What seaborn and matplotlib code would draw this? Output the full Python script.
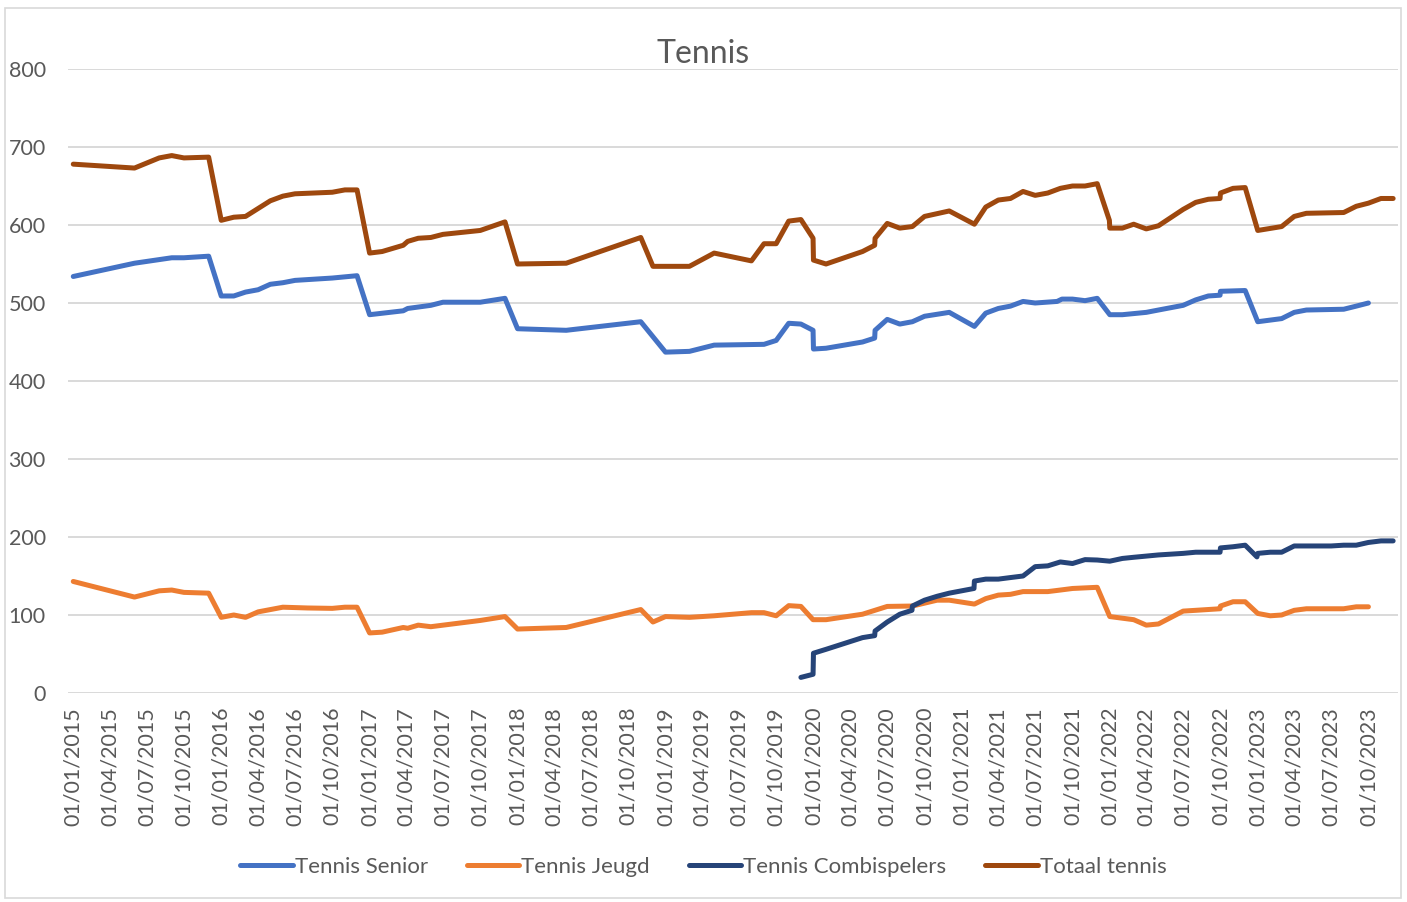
import pandas as pd
import numpy as np
import seaborn as sns
import matplotlib.pyplot as plt
import matplotlib.dates as mdates
from matplotlib.patches import Rectangle

# -----------------------------
# data
# -----------------------------
totaal_dates = [
    "2015-01-01", "2015-06-01", "2015-08-01", "2015-09-01", "2015-10-01", "2015-12-01",
    "2016-01-01", "2016-02-01", "2016-03-01", "2016-05-01", "2016-06-01", "2016-07-01",
    "2016-10-01", "2016-11-01", "2016-12-01", "2017-01-01", "2017-02-01", "2017-03-25",
    "2017-04-05", "2017-05-01", "2017-06-01", "2017-07-01", "2017-10-01", "2017-12-01",
    "2018-01-01", "2018-05-01", "2018-11-01", "2018-12-01", "2019-03-01", "2019-05-01",
    "2019-08-01", "2019-09-01", "2019-10-01", "2019-11-01", "2019-12-01", "2019-12-31",
    "2020-01-01", "2020-02-01", "2020-05-01", "2020-05-31", "2020-06-01", "2020-07-01",
    "2020-08-01", "2020-09-01", "2020-10-01", "2020-12-01", "2021-02-01", "2021-03-01",
    "2021-04-01", "2021-05-01", "2021-06-01", "2021-07-01", "2021-08-01", "2021-09-01",
    "2021-10-01", "2021-11-01", "2021-12-01", "2021-12-31", "2022-01-01", "2022-02-01",
    "2022-03-01", "2022-04-01", "2022-05-01", "2022-07-01", "2022-08-01", "2022-09-01",
    "2022-09-30", "2022-10-01", "2022-11-01", "2022-12-01", "2023-01-01", "2023-03-01",
    "2023-04-01", "2023-05-01", "2023-08-01", "2023-09-01", "2023-10-01", "2023-11-01",
    "2023-12-01",
]
totaal_values = [
    678, 673, 686, 689, 686, 687,
    606, 610, 611, 631, 637, 640,
    642, 645, 645, 564, 566, 574,
    579, 583, 584, 588, 593, 604,
    550, 551, 584, 547, 547, 564,
    554, 576, 576, 605, 607, 583,
    555, 550, 566, 574, 583, 602,
    596, 598, 611, 618, 601, 623,
    632, 634, 643, 638, 641, 647,
    650, 650, 653, 606, 596, 596,
    601, 595, 599, 620, 629, 633,
    634, 641, 647, 648, 593, 598,
    611, 615, 616, 624, 628, 634,
    634,
]

senior_dates = [
    "2015-01-01", "2015-06-01", "2015-09-01", "2015-10-01", "2015-12-01", "2016-01-01",
    "2016-02-01", "2016-03-01", "2016-04-01", "2016-05-01", "2016-06-01", "2016-07-01",
    "2016-10-01", "2016-12-01", "2017-01-01", "2017-03-25", "2017-04-05", "2017-06-01",
    "2017-07-01", "2017-10-01", "2017-12-01", "2018-01-01", "2018-05-01", "2018-11-01",
    "2019-01-01", "2019-03-01", "2019-05-01", "2019-09-01", "2019-10-01", "2019-11-01",
    "2019-12-01", "2019-12-31", "2020-01-01", "2020-02-01", "2020-05-01", "2020-05-31",
    "2020-06-01", "2020-07-01", "2020-08-01", "2020-09-01", "2020-10-01", "2020-12-01",
    "2021-02-01", "2021-03-01", "2021-04-01", "2021-05-01", "2021-06-01", "2021-07-01",
    "2021-08-24", "2021-09-05", "2021-10-01", "2021-11-01", "2021-12-01", "2022-01-01",
    "2022-02-01", "2022-04-01", "2022-05-01", "2022-07-01", "2022-08-01", "2022-09-01",
    "2022-09-30", "2022-10-01", "2022-12-01", "2023-01-01", "2023-03-01", "2023-04-01",
    "2023-05-01", "2023-08-01", "2023-09-01", "2023-10-01",
]
senior_values = [
    534, 551, 558, 558, 560, 509,
    509, 514, 517, 524, 526, 529,
    532, 535, 485, 490, 493, 497,
    501, 501, 506, 467, 465, 476,
    437, 438, 446, 447, 452, 474,
    473, 465, 441, 442, 450, 455,
    465, 479, 473, 476, 483, 488,
    470, 487, 493, 496, 502, 500,
    502, 505, 505, 503, 506, 485,
    485, 488, 491, 497, 504, 509,
    510, 515, 516, 476, 480, 488,
    491, 492, 496, 500,
]

jeugd_dates = [
    "2015-01-01", "2015-06-01", "2015-08-01", "2015-09-01", "2015-10-01", "2015-12-01",
    "2016-01-01", "2016-02-01", "2016-03-01", "2016-04-01", "2016-06-01", "2016-08-01",
    "2016-10-01", "2016-11-01", "2016-12-01", "2017-01-01", "2017-02-01", "2017-03-25",
    "2017-04-05", "2017-05-01", "2017-06-01", "2017-10-01", "2017-12-01", "2018-01-01",
    "2018-05-01", "2018-11-01", "2018-12-01", "2019-01-01", "2019-03-01", "2019-05-01",
    "2019-08-01", "2019-09-01", "2019-10-01", "2019-11-01", "2019-12-01", "2019-12-31",
    "2020-02-01", "2020-05-01", "2020-07-01", "2020-09-01", "2020-11-01", "2020-12-01",
    "2021-02-01", "2021-03-01", "2021-04-01", "2021-05-01", "2021-06-01", "2021-08-01",
    "2021-09-01", "2021-10-01", "2021-12-01", "2022-01-01", "2022-03-01", "2022-04-01",
    "2022-05-01", "2022-07-01", "2022-08-01", "2022-09-30", "2022-10-01", "2022-11-01",
    "2022-12-01", "2023-01-01", "2023-02-01", "2023-03-01", "2023-04-01", "2023-05-01",
    "2023-08-01", "2023-09-01", "2023-10-01",
]
jeugd_values = [
    143, 123, 131, 132, 129, 128,
    97, 100, 97, 104, 110, 109,
    108.5, 110, 110, 77, 78, 84,
    83, 87, 85, 93, 98, 82,
    84, 107, 91, 98, 97, 99,
    103, 103, 99, 112, 111, 94,
    94, 101, 111, 111.5, 119, 119,
    114, 121, 125.5, 126.5, 130, 130,
    132, 134, 135.5, 98, 94, 87,
    88.5, 105, 106, 108, 111.5, 117,
    117, 102, 99, 100, 106, 108,
    108, 110.5, 110.5,
]

combi_dates = [
    "2019-12-01", "2019-12-31", "2020-01-01", "2020-02-01", "2020-05-01", "2020-05-31",
    "2020-06-01", "2020-07-01", "2020-08-01", "2020-08-31", "2020-09-01", "2020-10-01",
    "2020-11-01", "2020-12-01", "2021-01-31", "2021-02-01", "2021-03-01", "2021-04-01",
    "2021-05-01", "2021-06-01", "2021-07-01", "2021-08-01", "2021-09-01", "2021-10-01",
    "2021-11-01", "2021-12-01", "2022-01-01", "2022-02-01", "2022-03-01", "2022-05-01",
    "2022-07-01", "2022-08-01", "2022-09-30", "2022-10-01", "2022-11-01", "2022-12-01",
    "2022-12-30", "2023-01-01", "2023-02-01", "2023-03-01", "2023-04-01", "2023-05-01",
    "2023-07-01", "2023-08-01", "2023-09-01", "2023-10-01", "2023-11-01", "2023-12-01",
]
combi_values = [
    20, 24, 51, 56, 71, 73.5,
    79.5, 91, 101, 106, 111.5, 119,
    124, 128, 134, 143.5, 146, 146,
    148, 150, 162, 163, 168, 166,
    171, 170.5, 169, 172.5, 174, 177,
    179, 180.5, 180.5, 186, 187.5, 189.5,
    174.5, 179, 180.5, 180.5, 188.5, 188.5,
    188.5, 189.5, 189.5, 193, 195, 195,
]

series_names = ["Tennis Senior", "Tennis Jeugd", "Tennis Combispelers", "Totaal tennis"]
series_colors = ["#4472C4", "#ED7D31", "#264478", "#9E480E"]
tick_dates = pd.date_range("2015-01-01", "2023-10-01", freq="QS")

series = [
    (senior_dates, senior_values),
    (jeugd_dates, jeugd_values),
    (combi_dates, combi_values),
    (totaal_dates, totaal_values),
]

# -----------------------------
# plot
# -----------------------------
sns.set_theme(style="white")
plt.rcParams["font.family"] = ["Lato", "DejaVu Sans"]

fig = plt.figure(figsize=(14.07, 9.02), dpi=100)
ax = fig.add_axes([68 / 1407, 1 - 693 / 902, (1398 - 68) / 1407, (693 - 69) / 902])

for (dates, values), name, color in zip(series, series_names, series_colors):
    df = pd.DataFrame({"date": pd.to_datetime(dates), "value": values})
    sns.lineplot(data=df, x="date", y="value", ax=ax, color=color,
                 linewidth=3.6, label=name, legend=False)

ax.set_ylim(0, 800)
ax.set_yticks(np.arange(0, 801, 100))
ax.set_xlim(pd.Timestamp("2014-12-19"), pd.Timestamp("2023-12-13"))
ax.set_xticks(tick_dates)
ax.xaxis.set_major_formatter(mdates.DateFormatter("%d/%m/%Y"))
ax.tick_params(axis="x", rotation=90, labelsize=15.5, colors="#595959", length=0, pad=10)
ax.tick_params(axis="y", labelsize=15.5, colors="#595959", length=0, pad=16)
ax.grid(axis="y", color="#D9D9D9", linewidth=1.4)
ax.grid(axis="x", visible=False)
for s in ax.spines.values():
    s.set_visible(False)
ax.set_xlabel("")
ax.set_ylabel("")

fig.text(703 / 1407, 1 - 54 / 902, "Tennis", ha="center", va="center",
         fontsize=23, color="#595959")

handles, labels = ax.get_legend_handles_labels()
fig.legend(handles, labels, loc="center", bbox_to_anchor=(0.5, 1 - 867 / 902),
           ncol=4, frameon=False, fontsize=16, handlelength=2.35,
           handletextpad=0.1, columnspacing=1.75, labelcolor="#595959")

fig.add_artist(Rectangle((5 / 1407, 1 - 898 / 902), 1396 / 1407, 890 / 902,
                         transform=fig.transFigure, fill=False,
                         edgecolor="#D9D9D9", linewidth=1.2))

plt.savefig("out.png", dpi=100)
